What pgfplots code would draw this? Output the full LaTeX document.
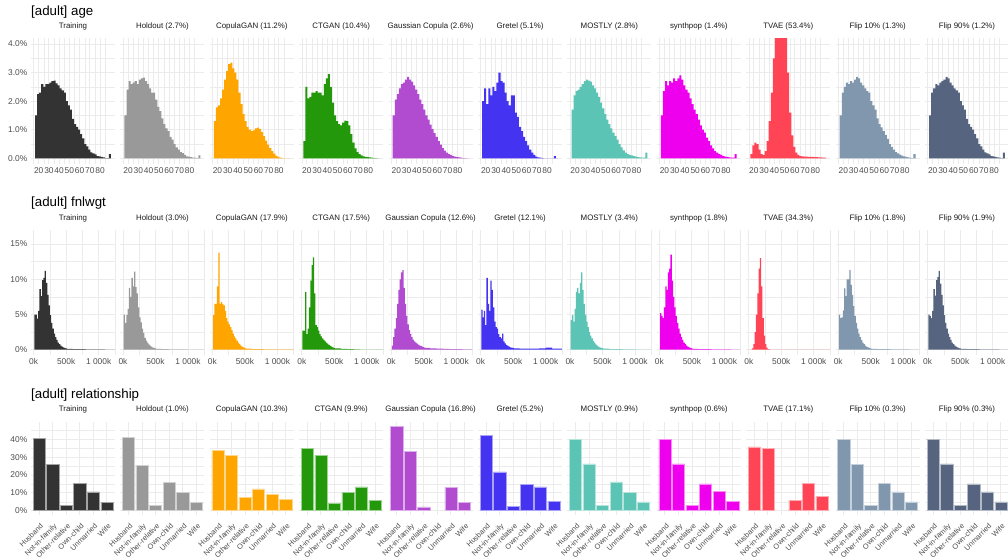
\documentclass[border=0pt]{standalone}
\usepackage{fontspec}
\setmainfont{Liberation Sans}
\usepackage{pgfplots}
\usepackage{pgfplotstable}
\pgfplotsset{compat=1.18}

\definecolor{cTrain}{HTML}{333333}
\definecolor{cHold}{HTML}{999999}
\definecolor{cCgan}{HTML}{FFA500}
\definecolor{cCtgan}{HTML}{23980A}
\definecolor{cGc}{HTML}{B14CD1}
\definecolor{cGretel}{HTML}{4433F0}
\definecolor{cMostly}{HTML}{5CC4B4}
\definecolor{cSynth}{HTML}{EE00EE}
\definecolor{cTvae}{HTML}{FF4455}
\definecolor{cFlipa}{HTML}{8197AD}
\definecolor{cFlipb}{HTML}{56647F}
\definecolor{gridcol}{HTML}{EBEBEB}
\definecolor{tickcol}{HTML}{4D4D4D}
\definecolor{stripcol}{HTML}{1A1A1A}

% age, 2-year bins (left edges), share in %
\pgfplotstableread{
x train hold cgan ctgan gc gretel mostly synth tvae f10 f90
16.5 1.5 1.5 1.3 0.6 1.5 2.0 1.7 1.5 0.15 1.5 1.5
18.5 2.25 2.4 1.78 2.5 2.05 2.45 2.2 2.35 0.45 2.3 2.3
20.5 2.3 2.7 1.85 2.1 2.25 1.9 2.35 2.7 0.55 2.5 2.45
22.5 2.6 2.6 2.1 2.15 2.45 2.45 2.4 2.55 0.5 2.65 2.6
24.5 2.5 2.65 2.4 2.3 2.6 2.2 2.5 2.7 0.3 2.6 2.55
26.5 2.6 2.7 2.75 2.3 2.65 2.5 2.6 2.65 0.15 2.7 2.65
28.5 2.6 2.6 3.05 2.35 2.75 2.35 2.7 2.8 0.12 2.65 2.7
30.5 2.65 2.75 3.3 2.3 2.85 2.65 2.75 2.7 0.25 2.75 2.75
32.5 2.7 2.8 3.35 2.3 2.75 3.0 2.72 2.8 0.6 2.85 2.85
34.5 2.72 2.82 3.15 2.2 2.68 2.7 2.68 2.9 1.3 2.8 2.8
36.5 2.62 2.7 3.0 2.6 2.55 2.65 2.55 2.75 2.3 2.65 2.65
38.5 2.55 2.6 2.75 2.8 2.4 2.3 2.45 2.55 3.5 2.55 2.55
40.5 2.45 2.45 2.3 2.95 2.25 2.0 2.3 2.4 5.0 2.45 2.45
42.5 2.38 2.3 1.9 2.5 2.05 1.85 2.15 2.3 6.0 2.35 2.38
44.5 2.3 2.3 1.55 1.95 1.9 2.2 1.95 2.1 6.5 2.3 2.3
46.5 2.0 2.05 1.3 1.5 1.7 2.2 1.75 1.9 6.8 2.0 2.0
48.5 1.85 1.8 1.1 1.3 1.5 1.6 1.55 1.7 6.2 1.85 1.85
50.5 1.7 1.65 1.0 1.2 1.35 1.45 1.35 1.55 5.0 1.7 1.7
52.5 1.38 1.4 0.95 1.15 1.18 1.1 1.2 1.35 3.0 1.4 1.38
54.5 1.2 1.2 0.98 1.25 1.02 0.95 1.05 1.15 1.6 1.2 1.2
56.5 1.1 1.05 1.05 1.32 0.88 0.75 0.9 1.0 0.8 1.08 1.1
58.5 1.0 0.95 1.07 1.3 0.75 0.6 0.78 0.9 0.4 0.95 1.0
60.5 0.85 0.75 1.02 1.15 0.6 0.45 0.65 0.72 0.2 0.82 0.85
62.5 0.7 0.65 0.92 0.85 0.48 0.3 0.5 0.6 0.12 0.68 0.7
64.5 0.5 0.5 0.78 0.55 0.36 0.2 0.38 0.45 0.08 0.5 0.5
66.5 0.42 0.38 0.62 0.35 0.27 0.12 0.28 0.35 0.07 0.4 0.42
68.5 0.3 0.3 0.48 0.22 0.2 0.06 0.2 0.25 0.06 0.3 0.3
70.5 0.21 0.22 0.36 0.15 0.15 0.03 0.15 0.2 0.06 0.22 0.21
72.5 0.17 0.18 0.25 0.1 0.11 0.02 0.12 0.15 0.05 0.17 0.17
74.5 0.14 0.12 0.16 0.07 0.08 0.01 0.1 0.12 0.05 0.13 0.14
76.5 0.08 0.07 0.09 0.05 0.06 0 0.08 0.08 0.05 0.09 0.08
78.5 0.07 0.06 0.05 0.04 0.04 0 0.06 0.06 0.04 0.07 0.07
80.5 0.05 0.04 0.02 0.03 0.03 0 0.04 0.05 0.04 0.05 0.05
82.5 0.03 0.02 0.01 0.02 0.02 0 0.03 0.03 0.03 0.03 0.03
84.5 0.01 0.02 0 0.01 0.01 0 0.02 0.02 0.03 0.02 0.02
86.5 0.01 0.01 0 0.01 0.01 0.08 0.02 0.02 0.02 0.01 0.01
88.5 0.15 0.1 0 0 0 0 0.2 0.15 0.02 0.15 0.2
90.5 0.15 0.1 0 0 0 0 0.2 0.15 0.02 0.15 0.2
}\agetab

% fnlwgt in thousands (left edges), share in %
\pgfplotstableread{
x train hold cgan ctgan gc gretel mostly synth tvae f10 f90
10 5.0 5.0 4.9 2.7 0.6 5.7 4.2 5.2 0 5.0 5.0
30 5.0 3.8 6.5 2.7 1.8 4.6 4.9 4.8 0 4.5 4.8
50 4.4 4.9 6.5 8.2 3.0 5.5 4.0 4.5 0.2 4.6 4.5
70 5.5 5.8 9.0 2.2 4.5 3.5 5.8 6.0 0.8 5.6 5.5
90 8.6 8.8 13.8 3.0 6.5 10.2 8.2 9.0 2.5 8.7 8.6
110 7.6 7.5 6.5 6.0 8.5 6.5 8.8 8.5 5.0 7.6 7.7
130 9.9 10.2 6.8 9.8 10.0 5.5 8.0 11.0 8.0 10.0 9.9
150 10.2 9.0 6.5 12.0 11.0 9.8 9.5 11.5 11.5 10.0 10.3
170 11.2 11.1 6.3 13.1 11.3 8.5 11.0 13.5 13.0 11.3 11.2
190 9.5 8.9 5.5 8.0 8.8 6.0 8.5 9.8 9.0 9.2 9.4
210 7.8 8.0 4.5 3.5 6.5 4.0 6.5 7.5 4.5 7.8 7.8
230 6.3 6.0 4.0 3.2 4.8 3.2 5.0 6.0 2.0 6.2 6.3
250 4.9 4.6 3.6 2.7 3.6 3.0 4.0 4.8 0.8 4.8 4.9
270 3.8 3.9 3.2 2.2 2.8 2.2 3.2 3.8 0.3 3.8 3.8
290 3.0 3.0 2.8 1.9 2.2 1.8 2.5 3.0 0.1 3.0 3.0
310 2.3 2.4 2.3 1.6 1.8 1.6 2.0 2.3 0.05 2.3 2.3
330 1.8 1.7 1.9 1.4 1.45 2.3 1.6 1.8 0 1.8 1.8
350 1.4 1.3 1.6 1.2 1.2 1.2 1.25 1.4 0 1.4 1.4
370 1.0 1.0 1.3 1.0 1.0 0.9 1.0 1.0 0 1.0 1.0
390 0.8 0.75 1.0 0.85 0.85 0.7 0.75 0.8 0 0.8 0.8
410 0.6 0.6 0.8 0.7 0.72 0.55 0.6 0.6 0 0.6 0.6
430 0.45 0.45 0.6 0.55 0.62 0.45 0.45 0.45 0 0.45 0.45
450 0.35 0.3 0.45 0.45 0.52 0.35 0.35 0.35 0 0.35 0.35
470 0.25 0.25 0.35 0.35 0.45 0.3 0.28 0.25 0 0.25 0.25
490 0.2 0.2 0.25 0.28 0.38 0.25 0.22 0.2 0 0.2 0.2
510 0.12 0.12 0.15 0.2 0.28 0.18 0.15 0.12 0 0.12 0.12
600 0.09 0.08 0.1 0.12 0.2 0.15 0.1 0.09 0 0.09 0.09
700 0.07 0.06 0.08 0.08 0.15 0.14 0.07 0.07 0 0.07 0.07
800 0.05 0.05 0.06 0.05 0.12 0.15 0.05 0.05 0 0.05 0.05
900 0.04 0.04 0.05 0 0.1 0.2 0.04 0.04 0 0.04 0.04
1000 0.04 0.03 0.05 0 0.08 0.3 0.03 0.04 0 0.04 0.04
1100 0.03 0.02 0.04 0 0.06 0.15 0.02 0.03 0 0.03 0.03
1250 0.03 0.02 0.04 0 0.06 0.15 0.02 0.03 0 0.03 0.03
}\fnltab

% relationship: 1 Husband, 2 Not-in-family, 3 Other-relative, 4 Own-child, 5 Unmarried, 6 Wife
\pgfplotstableread{
x train hold cgan ctgan gc gretel mostly synth tvae f10 f90
1 40.4 41.0 33.6 34.9 47.2 42.2 39.8 39.8 35.7 40.1 40.0
2 25.8 25.5 30.8 30.8 33.2 21.8 26.3 26.3 35.1 25.8 26.3
3 3.0 3.1 7.3 4.3 2.1 2.6 3.0 3.0 nan 3.0 3.0
4 15.5 15.7 12.3 10.1 nan 14.9 16.1 15.1 5.8 15.3 15.1
5 10.6 10.4 9.3 13.3 12.9 13.3 10.1 10.8 15.5 10.6 10.5
6 4.8 4.6 6.2 5.8 4.5 5.4 4.9 5.2 8.0 5.0 5.0
}\reltab

\pgfplotsset{
  facet/.style={
    scale only axis, width=84pt, anchor=north west,
    axis line style={draw=none}, tick style={draw=none},
    grid=both,
    major grid style={line width=0.9pt, draw=gridcol},
    minor grid style={line width=0.45pt, draw=gridcol},
    ticklabel style={font=\fontsize{8.4}{9}\selectfont, text=tickcol},
    /pgf/number format/assume math mode=true,
    xticklabel style={inner sep=1pt, yshift=-2pt},
    yticklabel style={inner sep=1pt, xshift=-2.5pt},
    yticklabels={},
    title style={font=\fontsize{7.9}{9}\selectfont, text=stripcol,
      at={(0.5,1)}, anchor=south, inner sep=1.5pt, yshift=0.5pt},
  },
  agerow/.style={facet, height=126pt,
    xmin=12.5, xmax=94.5, ymin=-0.2, ymax=4.21,
    xtick={20,30,...,80}, minor xtick={15,25,...,85},
    ytick={0,1,2,3,4}, minor ytick={0.5,1.5,2.5,3.5}},
  fnlrow/.style={facet, height=125pt,
    xmin=-40, xmax=1252, ymin=-0.75, ymax=17,
    xtick={0,500,1000}, xticklabels={0k,500k,1 000k}, minor xtick={250,750,1250},
    ytick={0,5,10,15}, minor ytick={2.5,7.5,12.5}},
  relrow/.style={facet, height=93.2pt, ybar, bar width=0.9,
    xmin=0.4, xmax=6.6, ymin=-2.4, ymax=49.8,
    xtick={1,...,6}, minor xtick={},
    xticklabels={Husband,Not-in-family,Other-relative,Own-child,Unmarried,Wife},
    xticklabel style={font=\fontsize{7.4}{8}\selectfont, rotate=45,
      anchor=north east, inner sep=0.5pt, yshift=-1pt},
    ytick={0,10,20,30,40}, minor ytick={5,15,25,35,45}},
  hist/.style={const plot, fill=#1, draw=none, mark=none},
  relbar/.style={fill=#1, draw=#1!45!white, line width=0.5pt},
}

\newcommand{\agepanel}[5]{%
  \begin{axis}[agerow, at={(#1pt,-38pt)}, title={#2}, #5]
    \addplot[hist=#3] table[x=x, y=#4]{\agetab} \closedcycle;
  \end{axis}}
\newcommand{\fnlpanel}[5]{%
  \begin{axis}[fnlrow, at={(#1pt,-230pt)}, title={#2}, #5]
    \addplot[hist=#3] table[x=x, y=#4]{\fnltab} \closedcycle;
  \end{axis}}
\newcommand{\relpanel}[5]{%
  \begin{axis}[relrow, at={(#1pt,-421.8pt)}, title={#2}, #5]
    \addplot[relbar=#3] table[x=x, y=#4]{\reltab};
  \end{axis}}

\begin{document}
\begin{tikzpicture}
\useasboundingbox (0,0) rectangle (1008pt,-558pt);

\node[anchor=west, inner sep=0pt, font=\fontsize{13.3}{15}\selectfont] at (31pt,-12.5pt) {[adult] age};
\node[anchor=west, inner sep=0pt, font=\fontsize{13.3}{15}\selectfont] at (31pt,-203.5pt) {[adult] fnlwgt};
\node[anchor=west, inner sep=0pt, font=\fontsize{13.3}{15}\selectfont] at (31pt,-395pt) {[adult] relationship};

\agepanel{31}{Training}{cTrain}{train}{yticklabels={0.0\%,1.0\%,2.0\%,3.0\%,4.0\%}}
\agepanel{120.4}{Holdout (2.7\%)}{cHold}{hold}{}
\agepanel{209.8}{CopulaGAN (11.2\%)}{cCgan}{cgan}{}
\agepanel{299.2}{CTGAN (10.4\%)}{cCtgan}{ctgan}{}
\agepanel{388.6}{Gaussian Copula (2.6\%)}{cGc}{gc}{}
\agepanel{478}{Gretel (5.1\%)}{cGretel}{gretel}{}
\agepanel{567.4}{MOSTLY (2.8\%)}{cMostly}{mostly}{}
\agepanel{656.8}{synthpop (1.4\%)}{cSynth}{synth}{}
\agepanel{746.2}{TVAE (53.4\%)}{cTvae}{tvae}{}
\agepanel{835.6}{Flip 10\% (1.3\%)}{cFlipa}{f10}{}
\agepanel{925}{Flip 90\% (1.2\%)}{cFlipb}{f90}{}

\fnlpanel{31}{Training}{cTrain}{train}{yticklabels={0\%,5\%,10\%,15\%}}
\fnlpanel{120.4}{Holdout (3.0\%)}{cHold}{hold}{}
\fnlpanel{209.8}{CopulaGAN (17.9\%)}{cCgan}{cgan}{}
\fnlpanel{299.2}{CTGAN (17.5\%)}{cCtgan}{ctgan}{}
\fnlpanel{388.6}{Gaussian Copula (12.6\%)}{cGc}{gc}{}
\fnlpanel{478}{Gretel (12.1\%)}{cGretel}{gretel}{}
\fnlpanel{567.4}{MOSTLY (3.4\%)}{cMostly}{mostly}{}
\fnlpanel{656.8}{synthpop (1.8\%)}{cSynth}{synth}{}
\fnlpanel{746.2}{TVAE (34.3\%)}{cTvae}{tvae}{}
\fnlpanel{835.6}{Flip 10\% (1.8\%)}{cFlipa}{f10}{}
\fnlpanel{925}{Flip 90\% (1.9\%)}{cFlipb}{f90}{}

\relpanel{31}{Training}{cTrain}{train}{yticklabels={0\%,10\%,20\%,30\%,40\%}}
\relpanel{120.4}{Holdout (1.0\%)}{cHold}{hold}{}
\relpanel{209.8}{CopulaGAN (10.3\%)}{cCgan}{cgan}{}
\relpanel{299.2}{CTGAN (9.9\%)}{cCtgan}{ctgan}{}
\relpanel{388.6}{Gaussian Copula (16.8\%)}{cGc}{gc}{}
\relpanel{478}{Gretel (5.2\%)}{cGretel}{gretel}{}
\relpanel{567.4}{MOSTLY (0.9\%)}{cMostly}{mostly}{}
\relpanel{656.8}{synthpop (0.6\%)}{cSynth}{synth}{}
\relpanel{746.2}{TVAE (17.1\%)}{cTvae}{tvae}{}
\relpanel{835.6}{Flip 10\% (0.3\%)}{cFlipa}{f10}{}
\relpanel{925}{Flip 90\% (0.3\%)}{cFlipb}{f90}{}
\end{tikzpicture}
\end{document}
